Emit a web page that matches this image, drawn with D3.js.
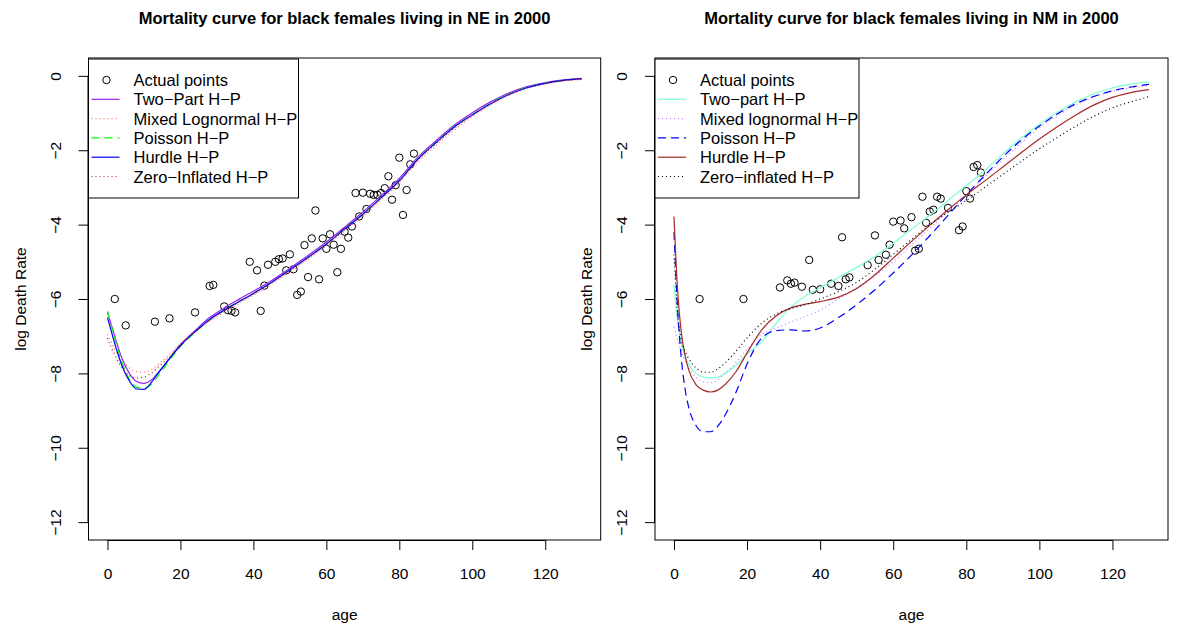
<!DOCTYPE html>
<html>
<head>
<meta charset="utf-8">
<script src="https://cdn.jsdelivr.net/npm/d3@7"></script>
<style>
body { margin: 0; background: #fff; }
text { font-family: "Liberation Sans", Arial, sans-serif; fill: #000; }
</style>
</head>
<body>
<svg id="chart"></svg>
<script>
// common grid of ages the fitted curves are read at
var gridAges = [0,1,2,3,4,6,8,10,12,14,17,20,24,28,32,36,40,45,50,55,60,65,70,75,80,85,90,95,100,105,110,115,120,125,130];

// NE panel
var neAges = [2,5,13,17,24,28,29,32,33,34,35,39,41,42,43,44,46,47,48,49,50,51,52,53,54,55,56,57,58,59,60,61,62,63,64,65,66,67,68,69,70,71,72,73,74,75,76,77,78,79,80,81,82,83,84];
var neRates = [-6.0,-6.71,-6.61,-6.52,-6.36,-5.65,-5.62,-6.2,-6.3,-6.32,-6.36,-5.0,-5.23,-6.32,-5.64,-5.08,-5.0,-4.93,-4.91,-5.23,-4.8,-5.2,-5.89,-5.8,-4.55,-5.41,-4.37,-3.62,-5.47,-4.37,-4.65,-4.26,-4.54,-5.28,-4.65,-4.19,-4.35,-4.05,-3.15,-3.78,-3.14,-3.58,-3.17,-3.2,-3.2,-3.15,-3.02,-2.7,-3.33,-2.94,-2.2,-3.74,-3.07,-2.38,-2.09];
var neTwoPart = [-6.35,-6.68,-7.0,-7.32,-7.6,-8.0,-8.22,-8.27,-8.18,-7.97,-7.6,-7.23,-6.85,-6.5,-6.24,-6.01,-5.79,-5.5,-5.17,-4.83,-4.47,-4.07,-3.66,-3.22,-2.76,-2.2,-1.75,-1.33,-0.99,-0.7,-0.46,-0.29,-0.18,-0.11,-0.07];
var neMixed = [-6.95,-7.15,-7.35,-7.5,-7.65,-7.85,-7.95,-7.97,-7.9,-7.75,-7.5,-7.2,-6.88,-6.6,-6.36,-6.12,-5.9,-5.6,-5.27,-4.93,-4.57,-4.17,-3.77,-3.34,-2.88,-2.33,-1.88,-1.46,-1.1,-0.79,-0.53,-0.34,-0.22,-0.14,-0.1];
var nePoisson = [-6.33,-6.7,-7.05,-7.4,-7.7,-8.15,-8.37,-8.4,-8.3,-8.05,-7.65,-7.28,-6.9,-6.56,-6.3,-6.07,-5.85,-5.55,-5.22,-4.88,-4.52,-4.12,-3.71,-3.27,-2.81,-2.24,-1.79,-1.37,-1.04,-0.74,-0.49,-0.31,-0.19,-0.12,-0.08];
var neHurdle = [-6.5,-6.85,-7.2,-7.52,-7.8,-8.2,-8.42,-8.43,-8.25,-7.98,-7.6,-7.25,-6.88,-6.55,-6.3,-6.07,-5.85,-5.55,-5.22,-4.88,-4.52,-4.12,-3.72,-3.28,-2.82,-2.25,-1.8,-1.38,-1.05,-0.75,-0.5,-0.32,-0.2,-0.12,-0.08];
var neZero = [-7.05,-7.3,-7.5,-7.7,-7.85,-8.05,-8.12,-8.1,-8.0,-7.82,-7.55,-7.22,-6.87,-6.57,-6.32,-6.09,-5.87,-5.57,-5.24,-4.9,-4.54,-4.14,-3.74,-3.3,-2.84,-2.28,-1.83,-1.41,-1.06,-0.76,-0.51,-0.33,-0.21,-0.13,-0.09];

// NM panel
var nmAges = [7,19,29,31,32,33,35,37,38,40,43,45,46,47,48,53,55,56,58,59,60,62,63,65,66,67,68,69,70,71,72,73,75,78,79,80,81,82,83,84];
var nmRates = [-6.0,-6.0,-5.69,-5.5,-5.59,-5.56,-5.67,-4.95,-5.75,-5.74,-5.59,-5.65,-4.34,-5.47,-5.42,-5.09,-4.29,-4.95,-4.81,-4.54,-3.92,-3.89,-4.1,-3.8,-4.7,-4.65,-3.25,-3.95,-3.65,-3.6,-3.25,-3.3,-3.55,-4.15,-4.05,-3.1,-3.3,-2.45,-2.4,-2.6];
var nmTwoPart = [-5.6,-6.6,-7.2,-7.55,-7.75,-8.0,-8.1,-8.12,-8.1,-8.0,-7.78,-7.48,-7.15,-6.65,-6.22,-5.92,-5.7,-5.42,-5.15,-4.85,-4.5,-4.12,-3.75,-3.35,-2.95,-2.55,-2.1,-1.68,-1.3,-0.98,-0.7,-0.48,-0.32,-0.22,-0.16];
var nmMixed = [-6.75,-7.1,-7.4,-7.65,-7.85,-8.1,-8.22,-8.25,-8.18,-8.0,-7.7,-7.35,-6.95,-6.78,-6.62,-6.47,-6.3,-6.0,-5.7,-5.38,-5.0,-4.55,-4.1,-3.65,-3.2,-2.72,-2.25,-1.8,-1.4,-1.06,-0.78,-0.57,-0.42,-0.32,-0.26];
var nmPoisson = [-4.2,-6.3,-7.6,-8.4,-8.9,-9.4,-9.57,-9.57,-9.42,-9.12,-8.5,-7.75,-7.05,-6.85,-6.83,-6.86,-6.78,-6.5,-6.15,-5.75,-5.3,-4.82,-4.3,-3.75,-3.2,-2.68,-2.18,-1.73,-1.35,-1.02,-0.75,-0.55,-0.4,-0.3,-0.23];
var nmHurdle = [-3.78,-5.8,-6.9,-7.5,-7.9,-8.3,-8.45,-8.5,-8.45,-8.3,-7.95,-7.45,-6.83,-6.45,-6.24,-6.14,-6.07,-5.95,-5.72,-5.35,-4.9,-4.45,-4.02,-3.6,-3.2,-2.83,-2.45,-2.07,-1.7,-1.36,-1.05,-0.78,-0.58,-0.45,-0.37];
var nmZero = [-4.8,-6.4,-7.1,-7.4,-7.6,-7.85,-7.97,-7.97,-7.88,-7.72,-7.4,-7.05,-6.65,-6.4,-6.26,-6.15,-6.0,-5.8,-5.55,-5.2,-4.8,-4.4,-4.0,-3.67,-3.35,-3.0,-2.65,-2.3,-1.96,-1.65,-1.35,-1.08,-0.86,-0.7,-0.56];

var xTicks = [0,20,40,60,80,100,120];
var yTicks = [0,-2,-4,-6,-8,-10,-12];

var neLabels = ["Actual points","Two\u2212Part H\u2212P","Mixed Lognormal H\u2212P","Poisson H\u2212P","Hurdle H\u2212P","Zero\u2212Inflated H\u2212P"];
var nmLabels = ["Actual points","Two\u2212part H\u2212P","Mixed lognormal H\u2212P","Poisson H\u2212P","Hurdle H\u2212P","Zero\u2212inflated H\u2212P"];

var width = 1179, height = 630;
var plotTop = 58, plotBottom = 540;

var svg = d3.select("#chart")
    .attr("width", width)
    .attr("height", height);

function drawPanel(opt){
    var x = d3.scaleLinear().domain([-5.2, 135.2]).range([opt.left, opt.right]);
    var y = d3.scaleLinear().domain([-12.48, 0.48]).range([plotBottom, plotTop]);
    var g = svg.append("g");

    g.append("clipPath").attr("id", opt.id + "clip")
        .append("rect")
        .attr("x", opt.left).attr("y", plotTop)
        .attr("width", opt.right - opt.left).attr("height", plotBottom - plotTop);

    // title
    g.append("text")
        .attr("x", (opt.left + opt.right) / 2)
        .attr("y", 24)
        .attr("text-anchor", "middle")
        .style("font-weight", "bold")
        .style("font-size", "16.5px")
        .text(opt.title);

    // x axis
    var xa = g.append("g").attr("transform", "translate(0," + plotBottom + ")")
        .call(d3.axisBottom(x).tickValues(xTicks).tickSize(10).tickPadding(18).tickFormat(d3.format("d")));
    xa.select(".domain").attr("d", "M" + x(0) + ",0.5H" + x(120));
    xa.selectAll("text").style("font-size", "15.5px").style("font-family", "Liberation Sans, Arial, sans-serif");

    // y axis
    var ya = g.append("g").attr("transform", "translate(" + opt.left + ",0)")
        .call(d3.axisLeft(y).tickValues(yTicks).tickSize(10).tickFormat(function(d){ return d < 0 ? "\u2212" + (-d) : d; }));
    ya.select(".domain").attr("d", "M-0.5," + y(0) + "V" + y(-12));
    ya.selectAll(".tick text")
        .attr("x", 0).attr("dy", 0)
        .attr("transform", "translate(-28,0) rotate(-90)")
        .attr("text-anchor", "middle")
        .style("font-size", "15.5px")
        .style("font-family", "Liberation Sans, Arial, sans-serif");

    // frame
    g.append("rect")
        .attr("x", opt.left).attr("y", plotTop)
        .attr("width", opt.right - opt.left).attr("height", plotBottom - plotTop)
        .attr("fill", "none").attr("stroke", "#000").attr("stroke-width", 1);

    g.append("text")
        .attr("x", (opt.left + opt.right) / 2)
        .attr("y", 620)
        .attr("text-anchor", "middle")
        .style("font-size", "15.5px")
        .text("age");

    g.append("text")
        .attr("transform", "translate(" + (opt.left - 63) + "," + ((plotTop + plotBottom) / 2) + ") rotate(-90)")
        .attr("text-anchor", "middle")
        .style("font-size", "15.5px")
        .text("log Death Rate");

    // points
    g.selectAll(".pt")
        .data(opt.ages)
        .enter().append("circle")
        .attr("cx", function(d){ return x(d); })
        .attr("cy", function(d, i){ return y(opt.rates[i]); })
        .attr("r", 3.7)
        .attr("fill", "none")
        .attr("stroke", "#000")
        .attr("stroke-width", 1);

    var line = d3.line()
        .x(function(d, i){ return x(gridAges[i]); })
        .y(function(d){ return y(d); })
        .curve(d3.curveMonotoneX);

    var lines = g.append("g").attr("clip-path", "url(#" + opt.id + "clip)");
    opt.series.forEach(function(s){
        lines.append("path")
            .attr("d", line(s.values))
            .attr("fill", "none")
            .attr("stroke", s.color)
            .attr("stroke-width", 1.2)
            .attr("stroke-dasharray", s.dash);
    });

    // legend
    var lx = opt.left, ly = plotTop + 1;
    var leg = g.append("g");
    leg.append("rect")
        .attr("x", lx).attr("y", ly)
        .attr("width", opt.legendWidth).attr("height", 139)
        .attr("fill", "#fff").attr("stroke", "#000").attr("stroke-width", 1);
    opt.labels.forEach(function(lab, i){
        var ry = ly + 21 + i * 19.3;
        if (i == 0){
            leg.append("circle")
                .attr("cx", lx + 18).attr("cy", ry)
                .attr("r", 3.7).attr("fill", "none").attr("stroke", "#000");
        } else {
            var s = opt.series[i - 1];
            leg.append("line")
                .attr("x1", lx + 3).attr("x2", lx + 31)
                .attr("y1", ry).attr("y2", ry)
                .attr("stroke", s.color)
                .attr("stroke-width", 1.2)
                .attr("stroke-dasharray", s.dash);
        }
        leg.append("text")
            .attr("x", lx + 45)
            .attr("y", ry + 6)
            .style("font-size", "16.5px")
            .text(lab);
    });
}

drawPanel({
    id: "ne", left: 88.5, right: 600.7,
    title: "Mortality curve for black females living in NE in 2000",
    ages: neAges, rates: neRates, labels: neLabels, legendWidth: 210,
    series: [
        {values: neTwoPart, color: "#A020F0", dash: null},
        {values: neMixed, color: "#FF6A6A", dash: "1,3"},
        {values: nePoisson, color: "#00FF00", dash: "8,5"},
        {values: neHurdle, color: "#0000FF", dash: null},
        {values: neZero, color: "#B22222", dash: "1,3"}
    ]
});

drawPanel({
    id: "nm", left: 655, right: 1168,
    title: "Mortality curve for black females living in NM in 2000",
    ages: nmAges, rates: nmRates, labels: nmLabels, legendWidth: 204,
    series: [
        {values: nmTwoPart, color: "#7FFFD4", dash: null},
        {values: nmMixed, color: "#C77DFF", dash: "1,3"},
        {values: nmPoisson, color: "#0000FF", dash: "8,5"},
        {values: nmHurdle, color: "#A52A2A", dash: null},
        {values: nmZero, color: "#000000", dash: "1,3"}
    ]
});
</script>
</body>
</html>
